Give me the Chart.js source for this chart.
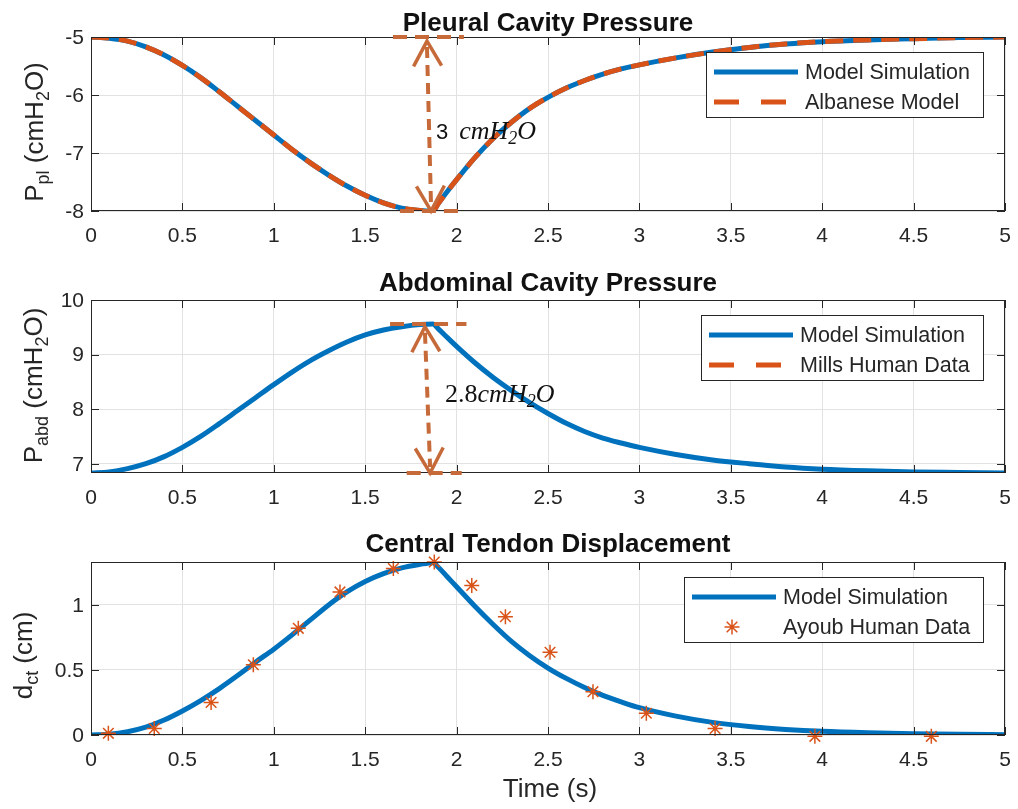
<!DOCTYPE html>
<html><head><meta charset="utf-8">
<script src="https://cdn.jsdelivr.net/npm/chart.js@4.4.1/dist/chart.umd.min.js"></script>
<style>
html,body{margin:0;padding:0;background:#fff;}
#wrap{position:relative;width:1018px;height:809px;overflow:hidden;background:#fff;}
canvas{position:absolute;left:0;}
</style></head><body>
<div id="wrap">
<canvas id="c1" width="1018" height="258" style="top:0px"></canvas>
<canvas id="c2" width="1018" height="262" style="top:258px"></canvas>
<canvas id="c3" width="1018" height="289" style="top:520px"></canvas>
</div>
<script>
// ---------------- data ----------------
const timeS = [0,0.1,0.2,0.3,0.4,0.5,0.6,0.7,0.8,0.9,1.0,1.1,1.2,1.3,1.4,1.5,1.6,1.7,1.8,1.87,1.9,1.95,2.0,2.1,2.2,2.3,2.4,2.5,2.6,2.7,2.8,2.9,3.0,3.2,3.4,3.6,3.8,4.0,4.25,4.5,4.75,5.0];
const pplModel = [-5.00,-5.02,-5.07,-5.17,-5.31,-5.49,-5.70,-5.94,-6.19,-6.44,-6.69,-6.94,-7.17,-7.38,-7.57,-7.73,-7.86,-7.95,-7.99,-8.00,-7.87,-7.66,-7.46,-7.08,-6.75,-6.47,-6.23,-6.04,-5.88,-5.75,-5.64,-5.55,-5.48,-5.36,-5.26,-5.18,-5.12,-5.08,-5.05,-5.03,-5.01,-5.00];
const pplAlbanese = [-5.00,-5.02,-5.07,-5.17,-5.31,-5.49,-5.70,-5.94,-6.19,-6.44,-6.69,-6.94,-7.17,-7.38,-7.57,-7.73,-7.86,-7.95,-7.99,-8.00,-7.87,-7.66,-7.46,-7.08,-6.75,-6.47,-6.23,-6.04,-5.88,-5.75,-5.64,-5.55,-5.48,-5.36,-5.26,-5.18,-5.12,-5.08,-5.05,-5.03,-5.01,-5.00];
const pabdModel = [6.83,6.85,6.91,7.00,7.13,7.30,7.50,7.73,7.97,8.21,8.45,8.68,8.89,9.07,9.23,9.36,9.45,9.51,9.55,9.56,9.47,9.31,9.15,8.85,8.58,8.34,8.12,7.92,7.74,7.59,7.47,7.38,7.30,7.17,7.07,7.00,6.94,6.90,6.87,6.85,6.84,6.83];
const millsData = [];
const dctModel = [0.00,0.005,0.025,0.06,0.115,0.185,0.265,0.355,0.455,0.56,0.66,0.77,0.885,1.00,1.10,1.18,1.24,1.285,1.312,1.325,1.29,1.215,1.14,0.99,0.85,0.72,0.61,0.515,0.435,0.365,0.305,0.255,0.21,0.145,0.097,0.065,0.043,0.028,0.017,0.01,0.005,0.002];
const ayoubTime = [0.095,0.346,0.657,0.888,1.134,1.362,1.654,1.878,2.083,2.267,2.511,2.746,3.038,3.414,3.96,4.597];
const ayoubDct = [0.013,0.05,0.25,0.54,0.82,1.10,1.28,1.33,1.15,0.91,0.636,0.333,0.167,0.05,-0.01,-0.01];

const xTicks = [0,0.5,1,1.5,2,2.5,3,3.5,4,4.5,5];
const xTickLabels = ['0','0.5','1','1.5','2','2.5','3','3.5','4','4.5','5'];
const pplTicks = [-8,-7,-6,-5];
const pplTickLabels = ['-8','-7','-6','-5'];
const pabdTicks = [7,8,9,10];
const pabdTickLabels = ['7','8','9','10'];
const dctTicks = [0,0.5,1];
const dctTickLabels = ['0','0.5','1'];

const titles = ['Pleural Cavity Pressure','Abdominal Cavity Pressure','Central Tendon Displacement'];
const xAxisTitle = 'Time (s)';

// annotation geometry in data units
const pplSpan = {top:-5, bottom:-8, topX:[1.652,2.04], bottomX:[1.69,2.03], arrowX:[1.838,1.86], arrowTipTop:-5.07};
const pabdSpan = {top:9.56, bottom:6.83, topX:[1.636,2.054], bottomX:[1.727,2.028], arrowX:[1.827,1.855], arrowTipTop:9.51};

// ---------------- style ----------------
const BLUE = '#0072BD', ORANGE = '#D95319', ANN = '#C66A3A', INK = '#262626', GRID = '#e2e2e2';
const SANS = '"Liberation Sans", Arial, Helvetica, sans-serif';
const SERIF = '"Liberation Serif", "Times New Roman", serif';
Chart.defaults.font.family = SANS;
Chart.defaults.color = INK;

function xy(ts, vs){ return ts.map((t,i)=>({x:t, y:vs[i]})); }

function richWidth(ctx, parts){ let w=0; for(const p of parts){ ctx.font=p.f; w += ctx.measureText(p.t).width + (p.dx||0);} return w; }
function drawRich(ctx, parts, x, y){ let cx=x; for(const p of parts){ cx += (p.dx||0); ctx.font=p.f; ctx.fillText(p.t, cx, y+(p.dy||0)); cx += ctx.measureText(p.t).width; } }

function drawFrame(chart){
  const {ctx, chartArea:a, scales:{x,y}} = chart;
  const L = Math.round(a.left), R = Math.round(a.right), T = Math.round(a.top), B = Math.round(a.bottom);
  ctx.save();
  ctx.strokeStyle = INK; ctx.lineWidth = 1; ctx.setLineDash([]);
  ctx.strokeRect(L+0.5, T+0.5, R-L-1, B-T-1);
  const tl = 8;
  ctx.beginPath();
  x.ticks.forEach(t=>{ const p = Math.round(x.getPixelForValue(t.value))+0.5; ctx.moveTo(p,B); ctx.lineTo(p,B-tl); ctx.moveTo(p,T); ctx.lineTo(p,T+tl); });
  y.ticks.forEach(t=>{ const p = Math.round(y.getPixelForValue(t.value))+0.5; ctx.moveTo(L,p); ctx.lineTo(L+tl,p); ctx.moveTo(R,p); ctx.lineTo(R-tl,p); });
  ctx.stroke();
  ctx.restore();
}

function arrowHead(ctx, tx, ty, fx, fy){
  const dx = tx-fx, dy = ty-fy, len = Math.hypot(dx,dy), ux = dx/len, uy = dy/len;
  const back = 25, half = 14, bx = tx-ux*back, by = ty-uy*back, nx = -uy, ny = ux;
  ctx.beginPath(); ctx.moveTo(bx+nx*half, by+ny*half); ctx.lineTo(tx,ty); ctx.lineTo(bx-nx*half, by-ny*half); ctx.stroke();
}

function drawAnnot(chart, an){
  const {ctx, scales:{x,y}} = chart;
  const px = v=>x.getPixelForValue(v), py = v=>y.getPixelForValue(v);
  const s = an.span;
  ctx.save();
  ctx.strokeStyle = ANN; ctx.lineWidth = 4; ctx.lineCap = 'butt';
  ctx.setLineDash([14,8]);
  ctx.beginPath(); ctx.moveTo(px(s.topX[0]), py(s.top)); ctx.lineTo(px(s.topX[1]), py(s.top)); ctx.stroke();
  ctx.beginPath(); ctx.moveTo(px(s.bottomX[0]), py(s.bottom)); ctx.lineTo(px(s.bottomX[1]), py(s.bottom)); ctx.stroke();
  const x0 = px(s.arrowX[0]), y0 = py(s.arrowTipTop), x1 = px(s.arrowX[1]), y1 = py(s.bottom);
  ctx.setLineDash([11,7]);
  ctx.beginPath(); ctx.moveTo(x0, y0+6); ctx.lineTo(x1, y1-6); ctx.stroke();
  ctx.setLineDash([]); ctx.lineWidth = 3.5; ctx.lineJoin = 'miter';
  arrowHead(ctx, x0, y0, x1, y1);
  arrowHead(ctx, x1, y1, x0, y0);
  ctx.fillStyle = '#111';
  ctx.textBaseline = 'alphabetic'; ctx.textAlign = 'left';
  drawRich(ctx, an.text, px(an.textX), py(an.textY));
  ctx.restore();
}

function drawLegend(chart, items){
  const {ctx, chartArea:a} = chart;
  ctx.save();
  const font = '21.5px ' + SANS;
  ctx.font = font;
  const tw = Math.max(...items.map(i=>ctx.measureText(i.label).width));
  const w = Math.round(99 + tw + 13), h = 65;
  const x0 = Math.round(a.right - 22 - w), y0 = Math.round(a.top + 15);
  ctx.fillStyle = '#fff'; ctx.fillRect(x0, y0, w, h);
  ctx.strokeStyle = INK; ctx.lineWidth = 1; ctx.strokeRect(x0+0.5, y0+0.5, w, h);
  items.forEach((it, i)=>{
    const ry = y0 + 20 + i*30;
    ctx.save();
    if (it.kind === 'line' || it.kind === 'dash'){
      ctx.strokeStyle = it.color; ctx.lineWidth = 5; ctx.lineCap = 'butt';
      if (it.kind === 'dash') ctx.setLineDash([25,22]);
      ctx.beginPath(); ctx.moveTo(x0+8, ry); ctx.lineTo(x0+(it.kind==='dash'?80:92), ry); ctx.stroke();
    } else if (it.kind === 'star'){
      const cx = x0+48, r = 7.5;
      ctx.strokeStyle = it.color; ctx.lineWidth = 1.5;
      ctx.beginPath();
      for (let k=0;k<4;k++){ const ang = k*Math.PI/4; ctx.moveTo(cx+Math.cos(ang)*r, ry+Math.sin(ang)*r); ctx.lineTo(cx-Math.cos(ang)*r, ry-Math.sin(ang)*r); }
      ctx.stroke();
    }
    ctx.restore();
    ctx.fillStyle = INK; ctx.font = font; ctx.textBaseline = 'middle'; ctx.textAlign = 'left';
    ctx.fillText(it.label, x0+99, ry+1);
  });
  ctx.restore();
}

function drawTitle(chart, text, base){
  const {ctx, chartArea:a} = chart;
  ctx.save();
  ctx.font = 'bold 26px ' + SANS; ctx.fillStyle = '#111'; ctx.textAlign = 'center'; ctx.textBaseline = 'alphabetic';
  ctx.fillText(text, (a.left+a.right)/2, base);
  ctx.restore();
}

function drawYLabel(chart, parts, bx, shift){
  const {ctx, chartArea:a} = chart;
  ctx.save();
  ctx.fillStyle = INK; ctx.textBaseline = 'alphabetic'; ctx.textAlign = 'left';
  const w = richWidth(ctx, parts);
  ctx.translate(bx, (a.top+a.bottom)/2 + shift);
  ctx.rotate(-Math.PI/2);
  drawRich(ctx, parts, -w/2, 0);
  ctx.restore();
}

function matlabPlugin(cfg){
  return {
    id: 'matlab' + cfg.key,
    afterDatasetsDraw(chart){ drawFrame(chart); },
    afterDraw(chart){
      if (cfg.annot) drawAnnot(chart, cfg.annot);
      drawLegend(chart, cfg.legend);
      drawTitle(chart, cfg.title, cfg.titleBase);
      drawYLabel(chart, cfg.ylabel, cfg.ylabelX, cfg.ylabelShift);
      if (cfg.xlabel){
        const {ctx, chartArea:a} = chart;
        ctx.save(); ctx.font = '26px ' + SANS; ctx.fillStyle = INK; ctx.textAlign='center'; ctx.textBaseline='alphabetic';
        ctx.fillText(cfg.xlabel, (a.left+a.right)/2 + 2, cfg.xlabelBase); ctx.restore();
      }
    }
  };
}

function scalesFor(yMin, yMax, yT, yL){
  return {
    x: { type:'linear', min:0, max:5,
      afterBuildTicks: s=>{ s.ticks = xTicks.map(v=>({value:v})); },
      afterFit: s=>{ s.height = 40; s.paddingLeft = 0; s.paddingRight = 0; },
      ticks:{ callback:(v,i)=>xTickLabels[i], font:{size:21, family:SANS}, color:INK, padding:13, maxRotation:0, autoSkip:false },
      grid:{ color:GRID, lineWidth:1, drawTicks:false }, border:{display:false} },
    y: { type:'linear', min:yMin, max:yMax,
      afterBuildTicks: s=>{ s.ticks = yT.map(v=>({value:v})); },
      afterFit: s=>{ s.width = 91; s.paddingTop = 0; s.paddingBottom = 0; },
      ticks:{ callback:(v,i)=>yL[i], font:{size:21, family:SANS}, color:INK, padding:7, labelOffset:1, autoSkip:false },
      grid:{ color:GRID, lineWidth:1, drawTicks:false }, border:{display:false} }
  };
}

function baseOpts(pad, scales){
  return {
    responsive:false, animation:false, events:[],
    layout:{ padding:{ left:0, right:13, top:pad[0], bottom:pad[1] } },
    plugins:{ legend:{display:false}, tooltip:{enabled:false}, title:{display:false} },
    scales
  };
}

const lineDefaults = { pointRadius:0, borderWidth:5, cubicInterpolationMode:'monotone', borderJoinStyle:'round', fill:false };

// ---------------- panel 1 ----------------
new Chart(document.getElementById('c1'), {
  type:'line',
  data:{ datasets:[
    Object.assign({ label:'Model Simulation', data:xy(timeS, pplModel), borderColor:BLUE, order:2 }, lineDefaults),
    Object.assign({ label:'Albanese Model', data:xy(timeS, pplAlbanese), borderColor:ORANGE, borderDash:[18,10], order:1 }, lineDefaults)
  ]},
  options: baseOpts([37,7], scalesFor(-8,-5,pplTicks,pplTickLabels)),
  plugins:[ matlabPlugin({
    key:1, title:titles[0], titleBase:31,
    legend:[{label:'Model Simulation', kind:'line', color:BLUE},{label:'Albanese Model', kind:'dash', color:ORANGE}],
    ylabel:[{t:'P', f:'26px '+SANS},{t:'pl', f:'18px '+SANS, dy:6},{t:' (cmH', f:'26px '+SANS},{t:'2', f:'18px '+SANS, dy:6},{t:'O)', f:'26px '+SANS}],
    ylabelX:43, ylabelShift:8,
    annot:{ span:pplSpan, textX:1.887, textY:-6.75,
      text:[{t:'3', f:'22px '+SANS},{t:'cmH', f:'italic 26px '+SERIF, dx:11},{t:'2', f:'italic 18px '+SERIF, dy:5},{t:'O', f:'italic 26px '+SERIF}] }
  }) ]
});

// ---------------- panel 2 ----------------
new Chart(document.getElementById('c2'), {
  type:'line',
  data:{ datasets:[
    Object.assign({ label:'Model Simulation', data:xy(timeS, pabdModel), borderColor:BLUE, order:2 }, lineDefaults),
    Object.assign({ label:'Mills Human Data', data:millsData, borderColor:ORANGE, borderDash:[18,10], order:1 }, lineDefaults)
  ]},
  options: baseOpts([42,7], scalesFor(6.83,10,pabdTicks,pabdTickLabels)),
  plugins:[ matlabPlugin({
    key:2, title:titles[1], titleBase:33,
    legend:[{label:'Model Simulation', kind:'line', color:BLUE},{label:'Mills Human Data', kind:'dash', color:ORANGE}],
    ylabel:[{t:'P', f:'26px '+SANS},{t:'abd', f:'18px '+SANS, dy:6},{t:' (cmH', f:'26px '+SANS},{t:'2', f:'18px '+SANS, dy:6},{t:'O)', f:'26px '+SANS}],
    ylabelX:42, ylabelShift:-1,
    annot:{ span:pabdSpan, textX:1.937, textY:8.13,
      text:[{t:'2.8', f:'26px '+SERIF},{t:'cmH', f:'italic 26px '+SERIF},{t:'2', f:'italic 18px '+SERIF, dy:5},{t:'O', f:'italic 26px '+SERIF}] }
  }) ]
});

// ---------------- panel 3 ----------------
new Chart(document.getElementById('c3'), {
  type:'line',
  data:{ datasets:[
    Object.assign({ label:'Model Simulation', data:xy(timeS, dctModel), borderColor:BLUE, order:2 }, lineDefaults),
    { label:'Ayoub Human Data', data:xy(ayoubTime, ayoubDct), showLine:false, pointStyle:'star', pointRadius:7.5,
      pointBorderWidth:1.5, pointBorderColor:ORANGE, pointBackgroundColor:ORANGE, borderColor:ORANGE, clip:false, order:1 }
  ]},
  options: baseOpts([42,34], scalesFor(0,1.33,dctTicks,dctTickLabels)),
  plugins:[ matlabPlugin({
    key:3, title:titles[2], titleBase:32,
    legend:[{label:'Model Simulation', kind:'line', color:BLUE},{label:'Ayoub Human Data', kind:'star', color:ORANGE}],
    ylabel:[{t:'d', f:'26px '+SANS},{t:'ct', f:'18px '+SANS, dy:6},{t:' (cm)', f:'26px '+SANS}],
    ylabelX:32, ylabelShift:7,
    xlabel:xAxisTitle, xlabelBase:277
  }) ]
});
</script>
</body></html>
